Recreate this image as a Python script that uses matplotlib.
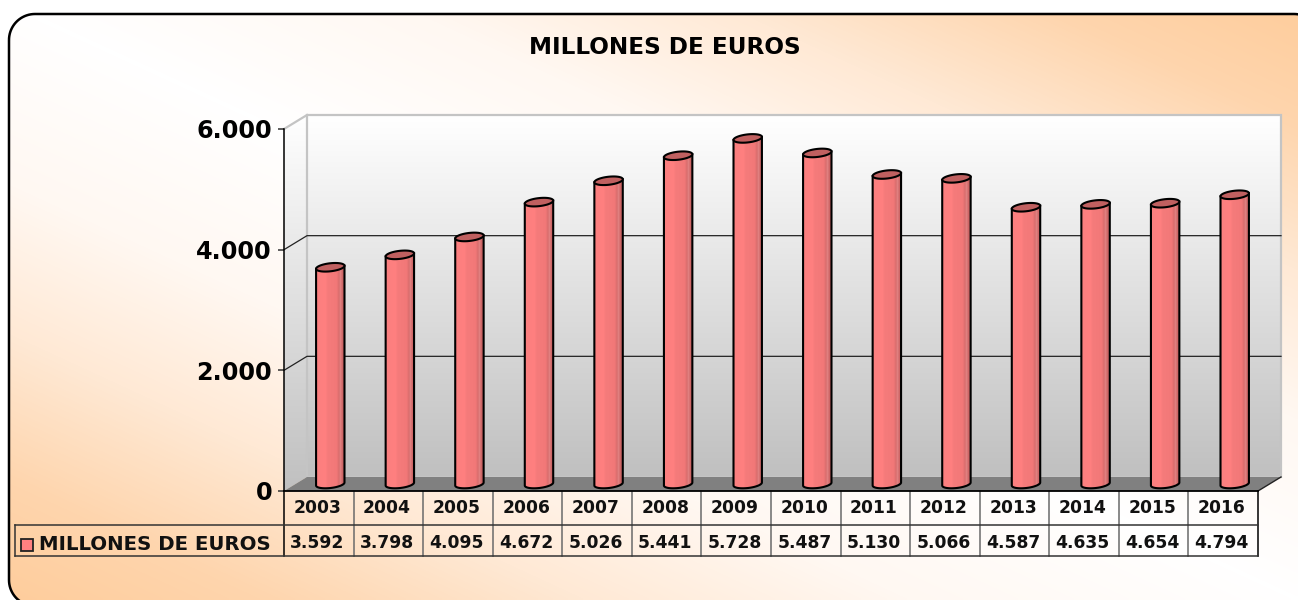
import numpy as np
import matplotlib
matplotlib.use('Agg')
import matplotlib.pyplot as plt
from matplotlib.patches import Polygon
from matplotlib.colors import LinearSegmentedColormap
from matplotlib.transforms import blended_transform_factory

# ---- data ----
years = [2003, 2004, 2005, 2006, 2007, 2008, 2009, 2010, 2011, 2012, 2013, 2014, 2015, 2016]
values = [3592, 3798, 4095, 4672, 5026, 5441, 5728, 5487, 5130, 5066, 4587, 4635, 4654, 4794]
y_ticks = [0, 2000, 4000, 6000]
y_labels = ['0', '2.000', '4.000', '6.000']
title = 'MILLONES DE EUROS'

W, H = 1298, 600
X0, X1 = 284, 1258   # front plane of the 3d box, pixels
Y0, Y1 = 491, 129
DX, DY = 23, 14      # depth of the box, pixels


def clipped_image(ax, data, extent, patch, cmap, z=1):
    im = ax.imshow(data, extent=extent, aspect='auto', cmap=cmap, vmin=0, vmax=1,
                   zorder=z, interpolation='bilinear', origin='upper')
    im.set_clip_path(patch)
    return im


def rounded_box(x0, y0, x1, y1, r):
    # sampled arcs, agg distorts bezier corners that leave the canvas
    pts = []
    corners = [(x0 + r, y0 + r, 180), (x1 - r, y0 + r, 270), (x1 - r, y1 - r, 0), (x0 + r, y1 - r, 90)]
    for cx, cy, start in corners:
        a = np.radians(np.linspace(start, start + 90, 20))
        pts.extend(zip(cx + r * np.cos(a), cy + r * np.sin(a)))
    return pts


fig = plt.figure(figsize=(W / 100, H / 100), dpi=100, facecolor='white')
bg = fig.add_axes([0, 0, 1, 1])
bg.set_axis_off()

# background with orange corners, white along the main diagonal
frame = Polygon(rounded_box(9, 14, 1320, 606, 26), closed=True, fc='none', ec='black', lw=1.8, zorder=3)
bg.add_patch(frame)
u, v = np.meshgrid(np.linspace(0, 1, 400), np.linspace(0, 1, 200))
d = np.clip(np.abs(u - v), 0, 1)
bg_cmap = LinearSegmentedColormap.from_list(
    'bg', [(0, '#ffffff'), (0.3, '#fff8f2'), (0.55, '#ffe9d5'), (0.8, '#fed5ad'), (1, '#fecd9c')])
clipped_image(bg, d, (0, W, H, 0), frame, bg_cmap, z=0)

# walls
wall_cmap = LinearSegmentedColormap.from_list('wall', ['#ffffff', '#c0c0c0'])
grad = np.linspace(0, 1, 200).reshape(-1, 1)
back = Polygon([(X0 + DX, Y1 - DY), (X1 + DX, Y1 - DY), (X1 + DX, Y0 - DY), (X0 + DX, Y0 - DY)],
               fc='none', ec='#c4c4c4', lw=1.6, zorder=2)
side = Polygon([(X0, Y1), (X0 + DX, Y1 - DY), (X0 + DX, Y0 - DY), (X0, Y0)],
               fc='none', ec='none', zorder=2)
bg.add_patch(back)
bg.add_patch(side)
clipped_image(bg, grad, (X0 + DX, X1 + DX, Y0 - DY, Y1 - DY), back, wall_cmap, z=1)
clipped_image(bg, grad, (X0, X0 + DX, Y0, Y1 - DY), side, wall_cmap, z=1)
bg.plot([X0, X0 + DX], [Y1, Y1 - DY], color='#c4c4c4', lw=1.6, zorder=2)
bg.add_patch(Polygon([(X0, Y0), (X0 + DX, Y0 - DY), (X1 + DX, Y0 - DY), (X1, Y0)],
                     fc='#808080', ec='none', zorder=2))
bg.plot([X1, X1 + DX], [Y0, Y0 - DY], color='#222222', lw=1, zorder=3)
bg.set_xlim(0, W)
bg.set_ylim(H, 0)

# main axes sit on the front plane of the box
ax = fig.add_axes([X0 / W, 1 - Y0 / H, (X1 - X0) / W, (Y0 - Y1) / H])
ax.patch.set_alpha(0)
for name in ['top', 'right', 'bottom']:
    ax.spines[name].set_visible(False)
ax.spines['left'].set_linewidth(1.1)
px_x = len(years) / (X1 - X0)
px_y = 6000 / (Y0 - Y1)

# gridlines run along the side and the back wall
for tick in y_ticks[1:-1]:
    ax.plot([0, DX * px_x, len(years) + DX * px_x], [tick, tick + DY * px_y, tick + DY * px_y],
            color='#222222', lw=0.9, clip_on=False, zorder=1)

# bars as cylinders, the caps are tilted by the depth of the box
bar_cmap = LinearSegmentedColormap.from_list(
    'bar', [(0, '#fb7f7f'), (0.33, '#ff8080'), (0.4, '#f57b7b'), (0.72, '#f27878'),
            (0.8, '#d86c6c'), (0.86, '#e48888'), (0.9, '#d06868'), (1, '#c86464')])
band = np.linspace(0, 1, 60).reshape(1, -1)
ea, edx, edy = 13.3, 5.0, 4.3
t0 = np.arctan2(edx, ea)


def cap(t):
    return (ea * np.cos(t) + edx * np.sin(t)) * px_x, edy * np.sin(t) * px_y


t = np.linspace(0, 2 * np.pi, 80)
ex, ey = cap(t)
lx, ly = cap(np.linspace(t0 + np.pi, t0 + 2 * np.pi, 40))
for i, val in enumerate(values):
    cx = i + 0.5 + 11.5 * px_x
    base = 7 * px_y
    top = val + base
    outline = [(cx + lx[0], top + ly[0]), (cx + lx[-1], top + ly[-1])] + \
        list(zip(cx + lx[::-1], base + ly[::-1]))
    body = Polygon(outline, closed=True, fc='none', ec='black', lw=1.5, zorder=4, clip_on=False)
    ax.add_patch(body)
    im = ax.imshow(band, extent=(cx + lx[0], cx + lx[-1], -400, top + 200), aspect='auto', cmap=bar_cmap,
                   vmin=0, vmax=1, zorder=3, interpolation='bilinear')
    im.set_clip_path(body)
    ax.add_patch(Polygon(np.column_stack([cx + ex, top + ey]), closed=True, fc='#c06060',
                         ec='black', lw=1.5, zorder=5, clip_on=False))

ax.set_xlim(0, len(years))
ax.set_ylim(0, 6000)
ax.set_xticks([])
ax.set_yticks(y_ticks)
ax.set_yticklabels(y_labels, fontweight='bold', fontsize=17.2, fontfamily='DejaVu Sans')
ax.tick_params(axis='y', length=4.3, width=1.1, pad=4.3, color='#333333')

# data table under the chart
tr = blended_transform_factory(ax.transData, bg.transData)
line_col = '#333333'
rows = [Y0, 525, 556]
for i in range(len(years) + 1):
    c = 'black' if i in (0, len(years)) else '#6a6a6a'
    ax.plot([i, i], [Y0, rows[2]], transform=tr, color=c, lw=1.1, clip_on=False, zorder=2)
ax.plot([0, len(years)], [rows[0], rows[0]], transform=tr, color='black', lw=1.3, clip_on=False)
for r in rows[1:]:
    ax.plot([(15 - X0) * px_x, len(years)], [r, r], transform=tr, color=line_col, lw=1.1, clip_on=False)
ax.plot([(15 - X0) * px_x] * 2, [rows[1], rows[2]], transform=tr, color=line_col, lw=1.1, clip_on=False)

for i, (yr, val) in enumerate(zip(years, values)):
    ax.text(i + 0.48, 508, str(yr), transform=tr, ha='center', va='center',
            fontsize=12.3, fontweight='bold', color='#111111')
    ax.text(i + 0.48, 543, f'{val:,}'.replace(',', '.'), transform=tr, ha='center', va='center',
            fontsize=12.3, fontweight='bold', color='#111111')

# legend key + name in the table row
bg.add_patch(Polygon([(21, 539), (33, 539), (33, 551), (21, 551)], fc='#ff8080', ec='#222222',
                     lw=1.3, zorder=5))
bg.text(39, 545, title, ha='left', va='center', fontsize=14.2, fontweight='bold',
        color='#111111', zorder=5)

fig.text(665 / W, 1 - 47 / H, title, ha='center', va='center', fontsize=16.7, fontweight='bold',
         color='black')

fig.savefig('out.png', dpi=100)
